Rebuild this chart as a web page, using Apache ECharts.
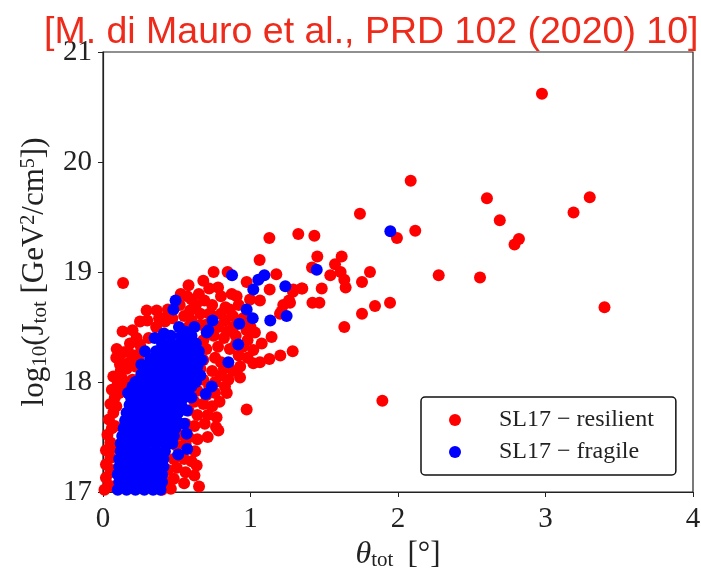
<!DOCTYPE html>
<html>
<head>
<meta charset="utf-8">
<script src="https://cdn.jsdelivr.net/npm/echarts@6/dist/echarts.min.js"></script>
<style>html,body{margin:0;padding:0;background:#fff}#c{width:701px;height:568px}</style>
</head>
<body>
<div id="c"></div>
<script>
// ---------- DATA ----------
const titleText = '[M. di Mauro et al., PRD 102 (2020) 10]';
const seriesNames = ['SL17 \u2212 resilient', 'SL17 \u2212 fragile'];
const xTicks = [0, 1, 2, 3, 4];
const yTicks = [17, 18, 19, 20, 21];

// SL17 - resilient  [theta_tot (deg), log10 J_tot]
const resilient = [
  [2.976,20.62],[2.086,19.83],[2.603,19.67],[2.69,19.47],[2.82,19.30],[2.79,19.25],[3.30,19.68],[3.19,19.54],
  [3.40,18.68],[2.276,18.97],[2.556,18.95],[1.894,17.83],[2.117,19.375],[1.993,19.31],[1.742,19.53],
  [1.324,19.345],[1.433,19.33],[1.128,19.31],[1.062,19.11],[1.453,19.14],[1.618,19.14],[1.573,19.07],
  [1.417,19.04],[1.611,19.00],[1.81,19.0],[1.541,18.97],[1.636,18.93],[1.645,18.86],[1.756,18.91],
  [1.483,18.85],[1.351,18.85],[1.288,18.82],[1.175,18.98],[1.13,18.84],[1.064,18.74],[1.261,18.74],
  [1.222,18.70],[1.2,18.62],[1.42,18.72],[1.467,18.72],[1.946,18.72],[1.844,18.69],[1.756,18.62],
  [1.636,18.50],[1.143,18.41],[1.03,18.45],[1.076,18.35],[1.019,18.29],[1.128,18.21],[1.202,18.24],
  [1.286,18.28],[1.019,18.17],[1.064,18.18],[1.21,18.64],[1.268,18.72],[1.29,18.84],[1.347,18.85],
  [0.75,19.0],[0.845,19.0],[0.136,18.90],[0.974,18.91],[0.527,18.80],[0.571,18.78],[0.687,18.74],
  [0.8,18.78],[0.873,18.80],[0.906,18.78],[0.997,18.75],[0.296,18.65],[0.364,18.65],[0.409,18.58],
  [0.59,18.65],[0.251,18.55],[0.133,18.46],[0.736,18.61],[0.578,18.50],[0.183,18.35],[0.093,18.30],
  [0.251,18.34],[0.217,18.24],[0.115,18.16],[0.827,18.56],[0.884,18.50],[0.974,18.47],[0.929,18.04],
  [0.827,17.96],[0.839,17.90],[0.974,17.75],[0.782,17.56],[0.651,17.05],[0.635,17.24],[0.624,17.37],
  [0.766,17.59],[0.228,18.40],[0.127,18.17],
  [0.01,17.02],[0.04,17.06],[0.02,17.13],[0.05,17.18],[0.02,17.25],[0.05,17.31],[0.02,17.38],[0.05,17.45],
  [0.03,17.52],[0.06,17.58],[0.04,17.66],[0.07,17.72],[0.05,17.8],[0.08,17.86],[0.06,17.93],[0.1,17.99],
  [0.07,18.05],[0.12,18.1],[0.09,18.22],[0.14,18.27],[0.16,18.12],[0.13,18.03],[0.11,17.9],[0.09,17.78],
  [0.08,17.6],[0.07,17.4],[0.06,17.2],[0.07,17.05],
  [0.18,18.18],[0.22,18.14],[0.2,18.02],[0.26,18.3],[0.31,18.4],[0.36,18.5],[0.3,18.56],[0.42,18.55],
  [0.47,18.58],[0.55,18.6],[0.6,18.56],[0.66,18.52],[0.68,18.38],[0.65,18.28],[0.2,18.47],[0.17,18.28],
  [0.24,18.22],[0.28,18.1],[0.16,17.97],[0.38,18.58],[0.44,18.66],[0.52,18.7],[0.6,18.75],[0.65,18.8],
  [0.58,18.88],[0.68,18.92],[0.72,18.85],
  [0.78,18.86],[0.63,18.7],[0.74,18.7],[0.83,18.68],[0.92,18.7],[0.66,18.62],[0.8,18.62],[0.88,18.6],
  [0.95,18.58],[0.7,18.52],[0.78,18.5],[0.96,18.52],[1.0,18.5],[0.75,18.42],[0.82,18.4],[0.9,18.42],
  [0.98,18.38],[0.7,18.3],[0.78,18.32],[0.86,18.3],[0.95,18.32],[0.68,18.2],[0.76,18.22],[0.92,18.24],
  [0.98,18.22],[0.66,18.12],[0.74,18.1],[0.82,18.12],[0.88,18.1],[0.68,18.02],[0.76,18.0],[0.85,18.02],
  [0.64,17.92],[0.7,17.88],[0.76,17.9],[0.62,17.82],[0.68,17.8],[0.74,17.78],[0.79,17.82],[0.58,17.74],
  [0.64,17.7],[0.71,17.7],[0.77,17.68],[0.56,17.62],[0.62,17.6],[0.69,17.62],[0.52,17.52],[0.58,17.5],
  [0.64,17.48],[0.71,17.5],[0.5,17.42],[0.56,17.44],[0.48,17.3],[0.55,17.3],[0.6,17.28],[0.44,17.2],
  [0.5,17.22],[0.56,17.18],[0.62,17.15],[0.42,17.1],[0.48,17.12],[0.55,17.08],[0.4,17.02],[0.46,17.03],
  [0.2,17.3],[0.3,17.5],[0.25,17.8],[0.35,17.15],[0.4,17.7],
  [0.72,18.62],[0.86,18.66],[0.84,18.46],[0.9,18.34],[0.8,18.18],[0.72,17.96],[0.8,18.06],[0.93,18.14]
];

// SL17 - fragile
const fragile = [
  [1.948,19.37],[1.449,19.02],[1.236,18.87],[1.094,18.97],[1.053,18.93],[1.019,18.84],[1.245,18.60],
  [1.134,18.56],[1.015,18.58],[0.875,18.97],[0.974,18.66],[0.924,18.53],[0.917,18.34],[0.85,18.18],
  [0.737,17.96],[0.696,17.89],[0.492,18.74],[0.477,18.66],[0.743,18.56],[0.714,18.47],[0.703,18.45],
  [0.413,18.44],[0.515,18.50],[0.556,18.46],[0.285,18.28],[0.567,17.53],[0.571,17.39],[0.51,17.34],
  [0.2,17.96],
  [0.10,17.02],[0.16,17.02],[0.22,17.02],[0.28,17.02],[0.34,17.02],[0.39,17.02],
  [0.11,17.09],[0.17,17.09],[0.23,17.09],[0.29,17.09],[0.35,17.09],[0.40,17.09],
  [0.10,17.16],[0.16,17.16],[0.22,17.16],[0.28,17.16],[0.34,17.16],[0.40,17.16],
  [0.11,17.23],[0.17,17.23],[0.23,17.23],[0.29,17.23],[0.35,17.23],[0.41,17.23],
  [0.11,17.30],[0.17,17.30],[0.23,17.30],[0.29,17.30],[0.35,17.30],[0.41,17.30],
  [0.12,17.37],[0.18,17.37],[0.24,17.37],[0.30,17.37],[0.36,17.37],[0.42,17.37],
  [0.12,17.44],[0.18,17.44],[0.24,17.44],[0.30,17.44],[0.36,17.44],[0.42,17.44],[0.47,17.44],
  [0.13,17.51],[0.19,17.51],[0.25,17.51],[0.31,17.51],[0.37,17.51],[0.43,17.51],[0.48,17.51],
  [0.14,17.58],[0.20,17.58],[0.26,17.58],[0.32,17.58],[0.38,17.58],[0.44,17.58],[0.49,17.58],
  [0.15,17.65],[0.21,17.65],[0.27,17.65],[0.33,17.65],[0.39,17.65],[0.45,17.65],[0.50,17.65],
  [0.16,17.72],[0.22,17.72],[0.28,17.72],[0.34,17.72],[0.40,17.72],[0.46,17.72],[0.51,17.72],
  [0.18,17.79],[0.24,17.79],[0.30,17.79],[0.36,17.79],[0.42,17.79],[0.48,17.79],[0.53,17.79],
  [0.19,17.86],[0.25,17.86],[0.31,17.86],[0.37,17.86],[0.43,17.86],[0.49,17.86],[0.55,17.86],[0.60,17.86],
  [0.21,17.93],[0.27,17.93],[0.33,17.93],[0.39,17.93],[0.45,17.93],[0.51,17.93],[0.57,17.93],
  [0.22,18.00],[0.28,18.00],[0.34,18.00],[0.40,18.00],[0.46,18.00],[0.52,18.00],[0.58,18.00],[0.63,18.00],
  [0.26,18.07],[0.32,18.07],[0.38,18.07],[0.44,18.07],[0.50,18.07],[0.56,18.07],[0.62,18.07],
  [0.29,18.14],[0.35,18.14],[0.41,18.14],[0.47,18.14],[0.53,18.14],[0.59,18.14],[0.64,18.14],
  [0.32,18.21],[0.38,18.21],[0.44,18.21],[0.50,18.21],[0.56,18.21],[0.62,18.21],
  [0.36,18.28],[0.42,18.28],[0.48,18.28],[0.54,18.28],[0.60,18.28],[0.65,18.28],
  [0.40,18.35],[0.46,18.35],[0.52,18.35],[0.58,18.35],[0.63,18.35],
  [0.46,18.42],[0.53,18.42],[0.60,18.42],
  [0.55,17.62],[0.57,17.74],[0.6,17.96],[0.66,18.06],[0.67,18.2],[0.62,18.5],[0.35,18.4],[0.26,18.16],[0.17,17.9]
];

// ---------- CHART ----------
const serif = '"Liberation Serif", "DejaVu Serif", serif';
const ink = '#222';
const chart = echarts.init(document.getElementById('c'), null, {renderer: 'canvas'});
chart.setOption({
  animation: false,
  backgroundColor: '#ffffff',
  title: {
    text: titleText, left: 39, top: 9,
    textStyle: {color: '#ee2a1b', fontFamily: '"Liberation Sans", Arial, sans-serif', fontSize: 37.5, fontWeight: 'normal'}
  },
  grid: {left: 103, right: 8, top: 52, bottom: 76, show: true, borderColor: ink, borderWidth: 1.2,
         containLabel: false, outerBoundsMode: 'none'},
  legend: {
    orient: 'vertical', left: 421, top: 397,
    data: seriesNames,
    icon: 'circle', itemWidth: 12, itemHeight: 12, itemGap: 6,
    padding: [10, 22, 10, 28],
    borderColor: '#111', borderWidth: 1.5, borderRadius: 4, backgroundColor: '#fff',
    textStyle: {fontFamily: serif, fontSize: 24, color: ink, padding: [0, 0, 0, 33], lineHeight: 26}
  },
  xAxis: {
    type: 'value', min: xTicks[0], max: xTicks[xTicks.length - 1], interval: 1,
    name: '{i|θ}{s|tot}{g| }{a|[°]}', nameLocation: 'middle', nameGap: 41,
    nameTextStyle: {
      fontFamily: serif, color: ink,
      rich: {
        i: {fontFamily: serif, fontSize: 32, fontStyle: 'italic', color: ink},
        s: {fontFamily: serif, fontSize: 21, color: ink, verticalAlign: 'bottom', padding: [11, 0, 0, 0]},
        g: {fontFamily: serif, fontSize: 30, color: ink, width: 14},
        a: {fontFamily: serif, fontSize: 31, color: ink}
      }
    },
    axisLine: {show: true, lineStyle: {color: ink, width: 1.2}},
    axisTick: {show: true, length: 5, lineStyle: {color: ink}},
    splitLine: {show: false},
    axisLabel: {fontFamily: serif, fontSize: 29, color: ink, margin: 13}
  },
  yAxis: {
    type: 'value', min: yTicks[0], max: yTicks[yTicks.length - 1], interval: 1,
    name: '{a|log}{s|10}{a|(J}{s|tot}{a| [GeV}{p|2}{a|/cm}{p|5}{a|])}',
    nameLocation: 'middle', nameGap: 52, nameRotate: 90,
    nameTextStyle: {
      fontFamily: serif, color: ink,
      rich: {
        a: {fontFamily: serif, fontSize: 31, color: ink},
        s: {fontFamily: serif, fontSize: 21, color: ink, verticalAlign: 'bottom', padding: [11, 0, 0, 0]},
        p: {fontFamily: serif, fontSize: 20, color: ink, verticalAlign: 'top', padding: [0, 0, 11, 0]}
      }
    },
    axisLine: {show: true, lineStyle: {color: ink, width: 1.2}},
    axisTick: {show: true, length: 5, lineStyle: {color: ink}},
    splitLine: {show: false},
    axisLabel: {fontFamily: serif, fontSize: 29, color: ink, margin: 11}
  },
  series: [
    {name: seriesNames[0], type: 'scatter', data: resilient, symbol: 'circle', symbolSize: 12,
     itemStyle: {color: '#ff0000', opacity: 1}},
    {name: seriesNames[1], type: 'scatter', data: fragile, symbol: 'circle', symbolSize: 12,
     itemStyle: {color: '#0000ff', opacity: 1}}
  ]
});
</script>
</body>
</html>
